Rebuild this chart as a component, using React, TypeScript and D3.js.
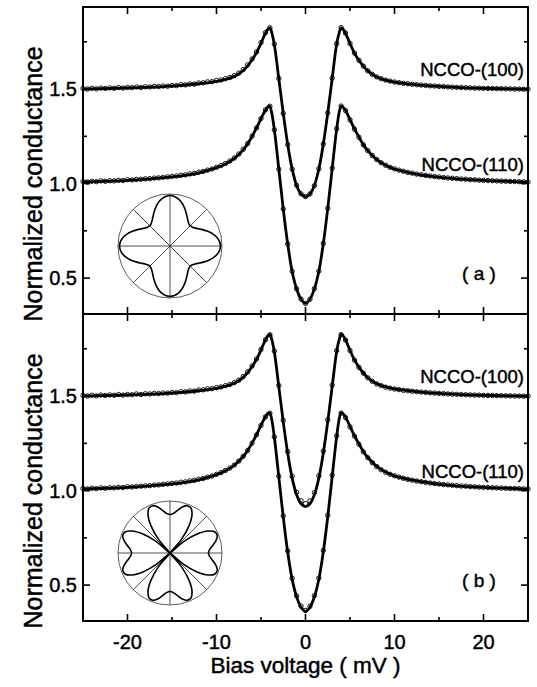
import React from "react";
import * as d3 from "d3";

// ---------- data ----------
// measured bias grid, mV
const dataBias: number[] = d3.range(-25, 25.001, 0.5);

// NCCO-(100) measured conductance (offset +0.5), -25 .. 25 mV step 0.5
const data100: number[] = [
  1.503, 1.500, 1.504, 1.501, 1.505, 1.503, 1.506, 1.504, 1.508, 1.505,
  1.508, 1.507, 1.511, 1.508, 1.512, 1.511, 1.514, 1.513, 1.516, 1.515,
  1.519, 1.518, 1.523, 1.522, 1.527, 1.526, 1.532, 1.533, 1.538, 1.539,
  1.545, 1.548, 1.555, 1.561, 1.571, 1.584, 1.603, 1.628, 1.659, 1.696,
  1.746, 1.798, 1.824, 1.738, 1.556, 1.371, 1.206, 1.076, 0.991, 0.946,
  0.931,
  0.945, 0.989, 1.078, 1.209, 1.374, 1.558, 1.740, 1.825, 1.796, 1.741,
  1.690, 1.652, 1.621, 1.596, 1.578, 1.564, 1.555, 1.547, 1.542, 1.537,
  1.534, 1.530, 1.528, 1.525, 1.523, 1.521, 1.519, 1.517, 1.516, 1.514,
  1.513, 1.511, 1.510, 1.509, 1.508, 1.507, 1.506, 1.505, 1.505, 1.504,
  1.503, 1.503, 1.502, 1.502, 1.501, 1.501, 1.500, 1.500, 1.499, 1.499,
];

// NCCO-(110) measured conductance, -25 .. 25 mV step 0.5
const data110: number[] = [
  1.011, 1.008, 1.012, 1.010, 1.014, 1.012, 1.015, 1.014, 1.017, 1.016,
  1.020, 1.019, 1.022, 1.023, 1.025, 1.026, 1.029, 1.030, 1.033, 1.035,
  1.038, 1.040, 1.044, 1.046, 1.051, 1.054, 1.060, 1.064, 1.071, 1.077,
  1.086, 1.095, 1.106, 1.119, 1.135, 1.156, 1.181, 1.212, 1.251, 1.295,
  1.344, 1.390, 1.409, 1.284, 1.076, 0.866, 0.681, 0.536, 0.443, 0.389,
  0.366,
  0.388, 0.444, 0.537, 0.683, 0.869, 1.082, 1.290, 1.410, 1.386, 1.337,
  1.288, 1.245, 1.205, 1.174, 1.148, 1.127, 1.110, 1.097, 1.086, 1.078,
  1.071, 1.065, 1.059, 1.055, 1.050, 1.047, 1.043, 1.040, 1.037, 1.035,
  1.032, 1.030, 1.028, 1.026, 1.024, 1.023, 1.021, 1.020, 1.018, 1.017,
  1.016, 1.015, 1.014, 1.013, 1.012, 1.011, 1.011, 1.010, 1.009, 1.008,
];

// fit curves
const fitBias: number[] = [
  -25, -22, -19, -16, -14, -12, -10, -9, -8, -7, -6.5, -6, -5.5, -5, -4.5, -4.2, -4, -3.8, -3.5,
  -3, -2.5, -2, -1.5, -1, -0.5, 0, 0.5, 1, 1.5, 2, 2.5, 3, 3.5, 3.8, 4, 4.2, 4.5, 5, 5.5, 6,
  6.5, 7, 8, 9, 10, 12, 14, 16, 19, 22, 25,
];

const fitA100: number[] = [
  1.500, 1.503, 1.507, 1.513, 1.519, 1.528, 1.541, 1.551, 1.567, 1.598, 1.623, 1.655, 1.693,
  1.742, 1.795, 1.818, 1.824, 1.800, 1.735, 1.555, 1.372, 1.207, 1.077, 0.990, 0.945, 0.930,
  0.945, 0.990, 1.077, 1.208, 1.373, 1.556, 1.738, 1.800, 1.824, 1.818, 1.795, 1.741, 1.690,
  1.652, 1.621, 1.596, 1.564, 1.547, 1.537, 1.525, 1.517, 1.511, 1.505, 1.502, 1.499,
];
const fitA110: number[] = [
  1.009, 1.013, 1.020, 1.031, 1.041, 1.057, 1.084, 1.104, 1.133, 1.178, 1.210, 1.250, 1.294,
  1.343, 1.388, 1.407, 1.408, 1.375, 1.285, 1.078, 0.866, 0.680, 0.535, 0.443, 0.388, 0.366,
  0.388, 0.443, 0.536, 0.682, 0.868, 1.080, 1.288, 1.380, 1.409, 1.405, 1.386, 1.338, 1.289,
  1.246, 1.206, 1.174, 1.127, 1.097, 1.077, 1.054, 1.039, 1.029, 1.019, 1.013, 1.008,
];
const fitB100: number[] = [
  1.500, 1.503, 1.507, 1.513, 1.519, 1.528, 1.541, 1.552, 1.568, 1.599, 1.624, 1.656, 1.694,
  1.744, 1.797, 1.820, 1.826, 1.801, 1.733, 1.550, 1.364, 1.197, 1.066, 0.978, 0.930, 0.915,
  0.930, 0.978, 1.066, 1.198, 1.365, 1.551, 1.736, 1.801, 1.826, 1.820, 1.797, 1.742, 1.691,
  1.653, 1.622, 1.597, 1.565, 1.548, 1.538, 1.526, 1.517, 1.511, 1.505, 1.502, 1.499,
];
const fitB110: number[] = [
  1.009, 1.013, 1.020, 1.031, 1.041, 1.057, 1.084, 1.105, 1.134, 1.180, 1.212, 1.252, 1.296,
  1.345, 1.390, 1.409, 1.410, 1.377, 1.282, 1.072, 0.860, 0.674, 0.530, 0.438, 0.383, 0.361,
  0.383, 0.438, 0.531, 0.676, 0.862, 1.074, 1.285, 1.382, 1.411, 1.407, 1.388, 1.340, 1.290,
  1.247, 1.207, 1.175, 1.128, 1.098, 1.078, 1.055, 1.040, 1.029, 1.019, 1.013, 1.008,
];

// gap anisotropy in the insets: radius / circle radius at 0..90 deg, step 5 deg
const gapA: number[] = [
  0.97, 0.957, 0.921, 0.865, 0.796, 0.723, 0.655, 0.599, 0.563, 0.55,
  0.563, 0.599, 0.655, 0.723, 0.796, 0.865, 0.921, 0.957, 0.97,
];
const gapB: number[] = [
  0.739, 0.765, 0.834, 0.915, 0.968, 0.954, 0.846, 0.636, 0.342, 0.0,
  0.342, 0.636, 0.846, 0.954, 0.968, 0.915, 0.834, 0.765, 0.739,
];

const xMajorTicks = [-20, -10, 0, 10, 20];
const xMinorTicks = [-15, -5, 5, 15];
const yMajorTicks = [0.5, 1.0, 1.5];
const yMinorTicks = [0.75, 1.25, 1.75];
const seriesLabels = ["NCCO-(100)", "NCCO-(110)"];
const panelLabels = ["( a )", "( b )"];

// ---------- layout ----------
const W = 537;
const H = 687;
const X0 = 83;
const X1 = 528;
const PANEL_TOPS = [7, 314];
const PANEL_H = 307;
const FONT = "'Liberation Sans', Arial, Helvetica, sans-serif";
const TXT = { fontFamily: FONT, fill: "#000", stroke: "#000", strokeWidth: 0.45 } as const;

const x = d3.scaleLinear().domain([-25, 25]).range([X0, X1]);

type PanelDef = { top: number; fit100: number[]; fit110: number[]; gap: number[]; label: string };
const panelDefs: PanelDef[] = [
  { top: PANEL_TOPS[0], fit100: fitA100, fit110: fitA110, gap: gapA, label: panelLabels[0] },
  { top: PANEL_TOPS[1], fit100: fitB100, fit110: fitB110, gap: gapB, label: panelLabels[1] },
];

function Inset({ cx, cy, R, gap }: { cx: number; cy: number; R: number; gap: number[] }) {
  const pts: [number, number][] = [];
  for (let q = 0; q < 4; q++) {
    for (let i = 0; i < gap.length - 1; i++) {
      const deg = q * 90 + i * 5;
      pts.push([(deg * Math.PI) / 180, gap[i] * R]);
    }
  }
  const radial = d3
    .lineRadial<[number, number]>()
    .angle((d) => d[0])
    .radius((d) => d[1])
    .curve(d3.curveCatmullRomClosed.alpha(0.5));
  const angles = [0, 45, 90, 135];
  return (
    <g transform={`translate(${cx},${cy})`}>
      <circle r={R} fill="none" stroke="#333" strokeWidth={0.8} />
      {angles.map((a) => {
        const r = (a * Math.PI) / 180;
        return (
          <line
            key={a}
            x1={-R * Math.cos(r)}
            y1={-R * Math.sin(r)}
            x2={R * Math.cos(r)}
            y2={R * Math.sin(r)}
            stroke="#222"
            strokeWidth={0.8}
          />
        );
      })}
      <path d={radial(pts) || ""} fill="none" stroke="#000" strokeWidth={1.6} />
    </g>
  );
}

function Panel({ def, showBottomLabels }: { def: PanelDef; showBottomLabels: boolean }) {
  const top = def.top;
  const bottom = top + PANEL_H;
  const y = d3.scaleLinear().domain([0.31, 1.934]).range([bottom, top]);
  const line = d3
    .line<[number, number]>()
    .x((d) => x(d[0]))
    .y((d) => y(d[1]))
    .curve(d3.curveCatmullRom.alpha(0.5));
  const fit100Pts = fitBias.map((b, i) => [b, def.fit100[i]] as [number, number]);
  const fit110Pts = fitBias.map((b, i) => [b, def.fit110[i]] as [number, number]);

  const xt = (v: number, len: number, key: string) => (
    <g key={key}>
      <line x1={x(v)} x2={x(v)} y1={top} y2={top + len} stroke="#000" strokeWidth={1.6} />
      <line x1={x(v)} x2={x(v)} y1={bottom} y2={bottom - len} stroke="#000" strokeWidth={1.6} />
    </g>
  );
  const yt = (v: number, len: number, key: string) => (
    <g key={key}>
      <line x1={X0} x2={X0 + len} y1={y(v)} y2={y(v)} stroke="#000" strokeWidth={1.6} />
      <line x1={X1} x2={X1 - len} y1={y(v)} y2={y(v)} stroke="#000" strokeWidth={1.6} />
    </g>
  );

  return (
    <g>
      {/* data */}
      {dataBias.map((b, i) => (
        <circle key={`c1-${i}`} cx={x(b)} cy={y(data100[i])} r={2.2} fill="none" stroke="#000" strokeWidth={0.9} />
      ))}
      {dataBias.map((b, i) => (
        <circle key={`c2-${i}`} cx={x(b)} cy={y(data110[i])} r={2.2} fill="none" stroke="#000" strokeWidth={0.9} />
      ))}
      {/* fits */}
      <path d={line(fit100Pts) || ""} fill="none" stroke="#000" strokeWidth={2.8} />
      <path d={line(fit110Pts) || ""} fill="none" stroke="#000" strokeWidth={2.8} />

      {/* ticks */}
      {xMajorTicks.map((v) => xt(v, 7, `xM${v}`))}
      {xMinorTicks.map((v) => xt(v, 4, `xm${v}`))}
      {yMajorTicks.map((v) => yt(v, 7, `yM${v}`))}
      {yMinorTicks.map((v) => yt(v, 4, `ym${v}`))}

      {/* y tick labels */}
      {yMajorTicks.map((v) => (
        <text key={`yl${v}`} x={77} y={y(v) + 7} textAnchor="end" fontSize={20} {...TXT}>
          {d3.format(".1f")(v)}
        </text>
      ))}

      {/* y title */}
      <text transform={`translate(42,${top + 177}) rotate(-90)`} textAnchor="middle" fontSize={25} {...TXT}>
        Normalized conductance
      </text>

      {/* series labels */}
      <text x={524} y={top + 69} textAnchor="end" fontSize={18.5} {...TXT}>
        {seriesLabels[0]}
      </text>
      <text x={524} y={top + 164} textAnchor="end" fontSize={18.5} {...TXT}>
        {seriesLabels[1]}
      </text>
      <text x={479} y={top + 273} textAnchor="middle" fontSize={19} {...TXT}>
        {def.label}
      </text>

      <Inset cx={170} cy={top + 239} R={52} gap={def.gap} />

      {showBottomLabels &&
        xMajorTicks.map((v) => (
          <text key={`xl${v}`} x={x(v)} y={bottom + 28} textAnchor="middle" fontSize={20} {...TXT}>
            {v}
          </text>
        ))}
    </g>
  );
}

export default function App() {
  return (
    <svg width={W} height={H} viewBox={`0 0 ${W} ${H}`} style={{ display: "block", position: "absolute", left: 0, top: 0, background: "#fff" }}>
      <rect x={0} y={0} width={W} height={H} fill="#fff" />
      {panelDefs.map((def, i) => (
        <Panel key={i} def={def} showBottomLabels={i === 1} />
      ))}
      <rect x={X0} y={PANEL_TOPS[0]} width={X1 - X0} height={PANEL_H * 2} fill="none" stroke="#000" strokeWidth={2} />
      <line x1={X0} x2={X1} y1={PANEL_TOPS[1]} y2={PANEL_TOPS[1]} stroke="#000" strokeWidth={2} />
      <text x={x(0)} y={673} textAnchor="middle" fontSize={22.5} {...TXT}>
        Bias voltage ( mV )
      </text>
    </svg>
  );
}
